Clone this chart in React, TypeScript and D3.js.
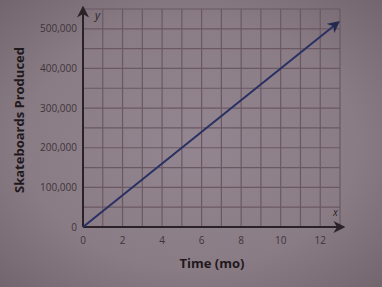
import React from "react";
import * as d3 from "d3";

const xTicks = [0, 2, 4, 6, 8, 10, 12];
const yTicks = [0, 100000, 200000, 300000, 400000, 500000];
const lineData: [number, number][] = [
  [0, 0],
  [12.9, 516000],
];
const xLabel = "Time (mo)";
const yLabel = "Skateboards Produced";

export default function App() {
  const W = 382, H = 287;
  const x = d3.scaleLinear().domain([0, 13]).range([83, 340]);
  const y = d3.scaleLinear().domain([0, 550000]).range([227, 9]);
  const vGrid = d3.range(1, 14);
  const hGrid = d3.range(50000, 550001, 50000);
  const fmt = d3.format(",");
  const line = d3.line<[number, number]>().x((d) => x(d[0])).y((d) => y(d[1]));
  const font = "'Open Sans', 'DejaVu Sans', sans-serif";
  return (
    <svg width={W} height={H} style={{ position: "absolute", left: 0, top: 0 }}>
      <defs>
        <radialGradient id="bg" cx="50%" cy="50%" r="72%">
          <stop offset="0%" stopColor="#948690" />
          <stop offset="60%" stopColor="#8a7c85" />
          <stop offset="100%" stopColor="#72646c" />
        </radialGradient>
        <marker id="arr" viewBox="0 0 10 10" refX="8" refY="5" markerWidth="6" markerHeight="6" orient="auto">
          <path d="M0,0 L10,5 L0,10 L3,5 Z" fill="#232a4e" />
        </marker>
        <marker id="arrA" viewBox="0 0 10 10" refX="8" refY="5" markerWidth="6" markerHeight="6" orient="auto">
          <path d="M0,0 L10,5 L0,10 L3,5 Z" fill="#2a2226" />
        </marker>
      </defs>
      <rect width={W} height={H} fill="url(#bg)" />
      <g stroke="#6a5963" strokeWidth={1.2}>
        {vGrid.map((v) => (
          <line key={"v" + v} x1={x(v)} x2={x(v)} y1={y(0)} y2={y(550000)} />
        ))}
        {hGrid.map((v) => (
          <line key={"h" + v} x1={x(0)} x2={x(13)} y1={y(v)} y2={y(v)} />
        ))}
      </g>
      <line x1={x(0)} y1={y(0)} x2={343} y2={y(0)} stroke="#2a2226" strokeWidth={2} markerEnd="url(#arrA)" />
      <line x1={x(0)} y1={y(0)} x2={x(0)} y2={8} stroke="#2a2226" strokeWidth={2} markerEnd="url(#arrA)" />
      <path d={line(lineData) || ""} fill="none" stroke="#283063" strokeWidth={2} markerEnd="url(#arr)" />
      <g fill="#3e343a" fontFamily={font} fontSize={10}>
        {xTicks.map((t) => (
          <text key={"xt" + t} x={x(t)} y={244} textAnchor="middle">{t}</text>
        ))}
        {yTicks.map((t) => (
          <text key={"yt" + t} x={77} y={y(t) + 3.5} textAnchor="end">{fmt(t)}</text>
        ))}
      </g>
      <text x={95} y={19} fontFamily={font} fontStyle="italic" fontSize={11} fill="#2a2226">y</text>
      <text x={333} y={216} fontFamily={font} fontStyle="italic" fontSize={10} fill="#2a2226">x</text>
      <text x={212} y={268} textAnchor="middle" fontFamily={font} fontWeight="bold" fontSize={13} fill="#1f181c">{xLabel}</text>
      <text transform="translate(24,120) rotate(-90)" textAnchor="middle" fontFamily={font} fontWeight="bold" fontSize={13} fill="#1f181c">{yLabel}</text>
    </svg>
  );
}
